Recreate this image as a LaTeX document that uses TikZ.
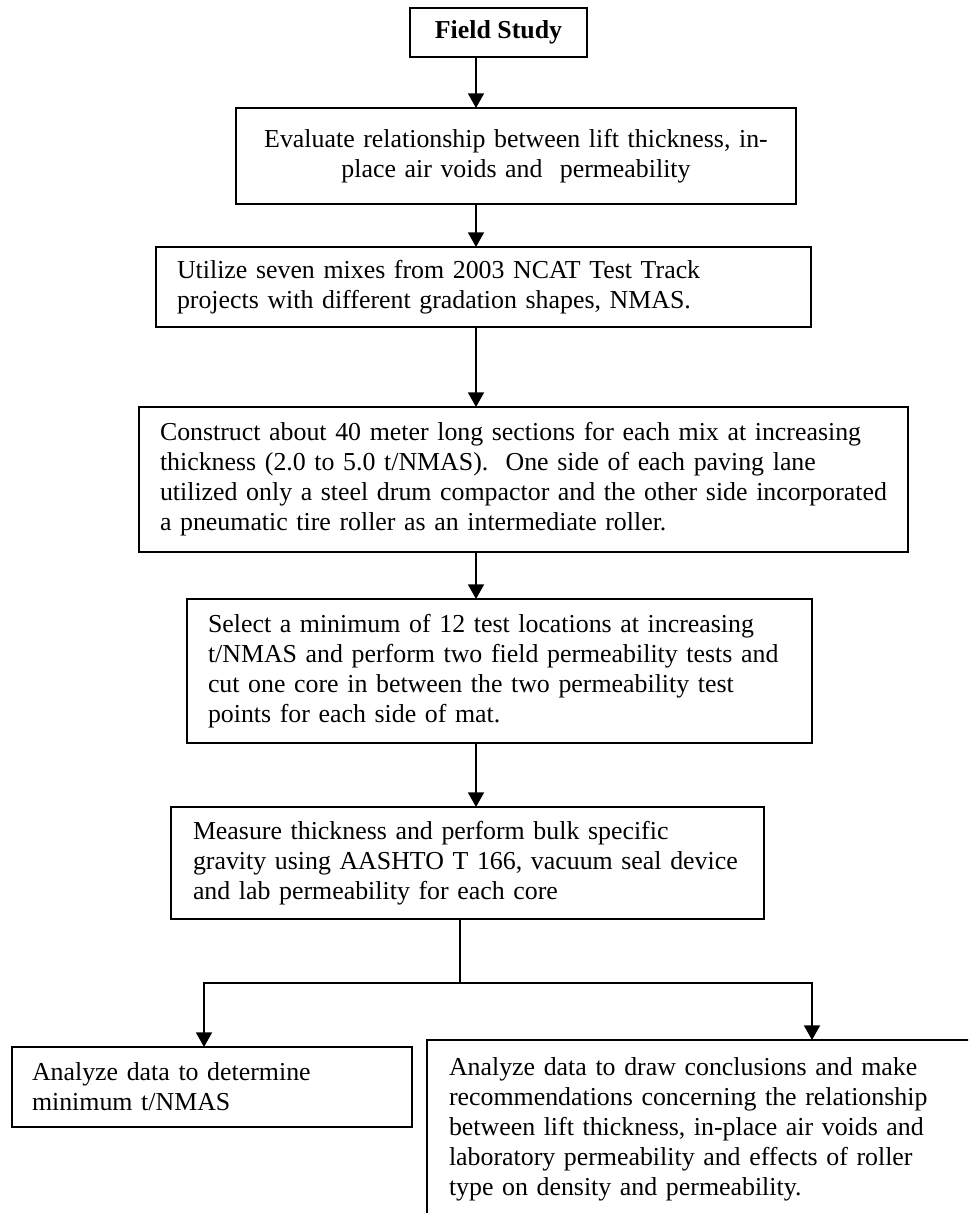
\documentclass[tikz,border=0pt]{standalone}
\usepackage{fontspec}
\setmainfont{Liberation Serif}
\usetikzlibrary{arrows.meta}
\begin{document}
\begin{tikzpicture}[x=0.75pt,y=-0.75pt,
  box/.style={draw, line width=1.3pt, rectangle, anchor=north west, outer sep=0pt, inner ysep=0pt,
    font=\fontsize{19.4pt}{22.5pt}\selectfont},
  lbox/.style={box, align=left},
  arr/.style={line width=1.3pt, -{Triangle[width=12pt,length=11pt]}},
  ln/.style={line width=1.3pt}]
\clip (0,0) rectangle (968,1213);
\fill[white] (0,0) rectangle (968,1213);
% boxes
\node[box, font=\fontsize{19.4pt}{22.5pt}\selectfont\bfseries, inner xsep=0pt,
  minimum width=132.75pt, minimum height=36.75pt] (fs) at (410,8) {Field Study};
\node[box, align=center, inner xsep=10pt, text width=400pt, minimum height=72pt] (ev) at (236,108)
  {Evaluate relationship between lift thickness, in-\\place air voids and\ \ permeability};
\node[lbox, inner xsep=15.75pt, text width=459.75pt, minimum height=60pt] (ut) at (156,247)
  {\mbox{Utilize seven mixes from 2003 NCAT Test Track}\\\mbox{projects with different gradation shapes, NMAS.}};
\node[lbox, inner xsep=15.75pt, text width=545.25pt, minimum height=108.75pt] (co) at (139,407)
  {\mbox{Construct about 40 meter long sections for each mix at increasing}\\
   \mbox{thickness (2.0 to 5.0 t/NMAS).\ \ One side of each paving lane}\\
   \mbox{utilized only a steel drum compactor and the other side incorporated}\\
   \mbox{a pneumatic tire roller as an intermediate roller.}};
\node[lbox, inner xsep=15.75pt, text width=437.25pt, minimum height=108pt] (se) at (187,599)
  {\mbox{Select a minimum of 12 test locations at increasing}\\
   \mbox{t/NMAS and perform two field permeability tests and}\\
   \mbox{cut one core in between the two permeability test}\\
   \mbox{points for each side of mat.}};
\node[lbox, inner xsep=16.5pt, text width=411.75pt, minimum height=84pt] (me) at (171,807)
  {\mbox{Measure thickness and perform bulk specific}\\
   \mbox{gravity using AASHTO T 166, vacuum seal device}\\
   \mbox{and lab permeability for each core}};
\node[lbox, inner xsep=15pt, text width=270pt, minimum height=60pt] (lb) at (12,1047)
  {\mbox{Analyze data to determine}\\\mbox{minimum t/NMAS}};
\node[lbox, inner xsep=16.5pt, text width=378pt, minimum height=133.5pt] (rb) at (427,1040)
  {\mbox{Analyze data to draw conclusions and make}\\
   \mbox{recommendations concerning the relationship}\\
   \mbox{between lift thickness, in-place air voids and}\\
   \mbox{laboratory permeability and effects of roller}\\
   \mbox{type on density and permeability.}};
% connectors
\coordinate (sp) at (476,0);
\draw[arr] (sp |- fs.south) -- (sp |- ev.north);
\draw[arr] (sp |- ev.south) -- (sp |- ut.north);
\draw[arr] (sp |- ut.south) -- (sp |- co.north);
\draw[arr] (sp |- co.south) -- (sp |- se.north);
\draw[arr] (sp |- se.south) -- (sp |- me.north);
\coordinate (j) at (460,983);
\coordinate (jl) at (204,983);
\coordinate (jr) at (812,983);
\draw[ln] (j |- me.south) -- (j);
\draw[arr] (j) -| (jl |- lb.north);
\draw[arr] (j) -| (jr |- rb.north);
\end{tikzpicture}
\end{document}
